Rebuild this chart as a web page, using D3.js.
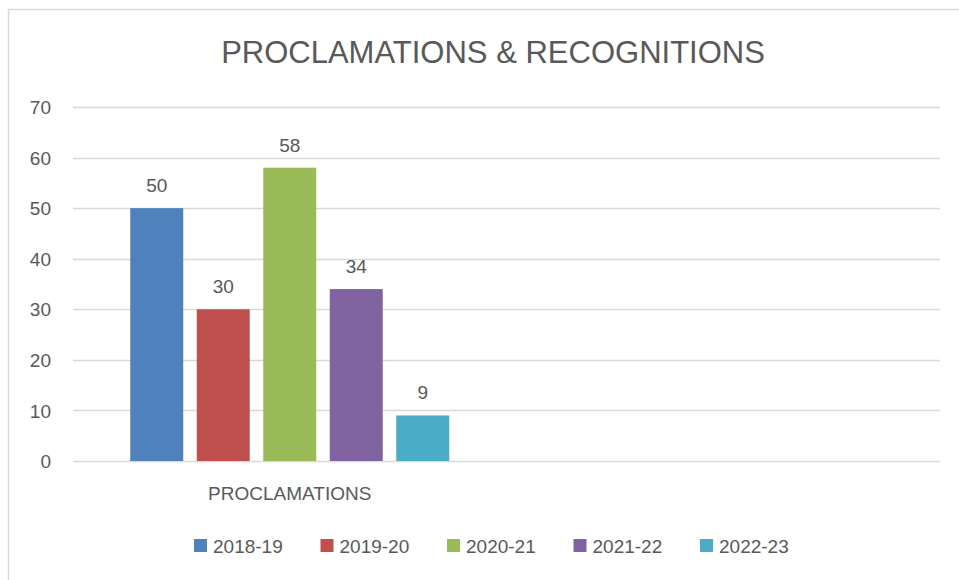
<!DOCTYPE html>
<html lang="en">
<head>
<meta charset="UTF-8">
<title>Proclamations &amp; Recognitions</title>
<script src="https://d3js.org/d3.v7.min.js"></script>
<style>
  body { margin: 0; background: #fff; }
  text { font-family: "Liberation Sans", "Noto Sans", sans-serif; fill: #595959; }
</style>
</head>
<body>
<script>
// chart values
var categories = ["PROCLAMATIONS", ""];
var seriesNames = ["2018-19", "2019-20", "2020-21", "2021-22", "2022-23"];
var proclamations = [50, 30, 58, 34, 9];
var yTicks = [0, 10, 20, 30, 40, 50, 60, 70];
var colors = ["#4F81BD", "#C0504D", "#9BBB59", "#8064A2", "#4BACC6"];

var W = 959, H = 580;
var plotLeft = 73, plotRight = 940, plotTop = 107, plotBottom = 461;

var svg = d3.select("body").append("svg").attr("width", W).attr("height", H);

// chart border
svg.append("rect").attr("x", 8.5).attr("y", 9.5).attr("width", 1000).attr("height", 1000)
  .attr("fill", "none").attr("stroke", "#d9d9d9").attr("stroke-width", 1.5);

svg.append("text").attr("x", 493).attr("y", 63).attr("text-anchor", "middle")
  .attr("font-size", 31).text("PROCLAMATIONS & RECOGNITIONS");

var y = d3.scaleLinear().domain([0, 70]).range([plotBottom, plotTop]);
var x0 = d3.scaleBand().domain(categories).range([plotLeft, plotRight]);
var x1 = d3.scaleBand().domain(seriesNames).range([0, x0.bandwidth()])
  .paddingInner(0.203).paddingOuter(0.861);

// gridlines
svg.selectAll(".grid").data(yTicks).enter().append("line")
  .attr("x1", plotLeft).attr("x2", plotRight)
  .attr("y1", function(d){ return Math.round(y(d)) + 0.5; })
  .attr("y2", function(d){ return Math.round(y(d)) + 0.5; })
  .attr("stroke", "#d9d9d9").attr("stroke-width", 1.5);

var yAxis = svg.append("g").attr("transform", "translate(" + (plotLeft - 22) + ",0)")
  .call(d3.axisLeft(y).tickValues(yTicks).tickSize(0).tickPadding(0));
yAxis.select(".domain").remove();
yAxis.attr("font-family", null).attr("font-size", null);
yAxis.selectAll("text").attr("font-size", 19).attr("dy", "0.35em").attr("fill", "#595959");

var g = svg.append("g").attr("transform", "translate(" + x0(categories[0]) + ",0)");
var bars = g.selectAll(".bar").data(proclamations).enter();
bars.append("rect")
  .attr("x", function(d, i){ return x1(seriesNames[i]); })
  .attr("y", function(d){ return y(d); })
  .attr("width", x1.bandwidth())
  .attr("height", function(d){ return y(0) - y(d); })
  .attr("fill", function(d, i){ return colors[i]; });
bars.append("text")
  .attr("x", function(d, i){ return x1(seriesNames[i]) + x1.bandwidth() / 2; })
  .attr("y", function(d){ return y(d) - 16; })
  .attr("text-anchor", "middle").attr("font-size", 19)
  .text(function(d){ return d; });

// category labels
var xAxis = svg.append("g").attr("transform", "translate(0," + plotBottom + ")")
  .call(d3.axisBottom(x0).tickSize(0).tickPadding(0));
xAxis.select(".domain").remove();
xAxis.attr("font-family", null).attr("font-size", null);
xAxis.selectAll("text").attr("y", 39).attr("dy", 0).attr("font-size", 19).attr("fill", "#595959");

// legend
var legend = svg.selectAll(".leg").data(seriesNames).enter().append("g")
  .attr("transform", function(d, i){ return "translate(" + (194 + i * 126.5) + ",539)"; });
legend.append("rect").attr("width", 13).attr("height", 13)
  .attr("fill", function(d, i){ return colors[i]; });
legend.append("text").attr("x", 19).attr("y", 13.5).attr("font-size", 19)
  .text(function(d){ return d; });
</script>
</body>
</html>
